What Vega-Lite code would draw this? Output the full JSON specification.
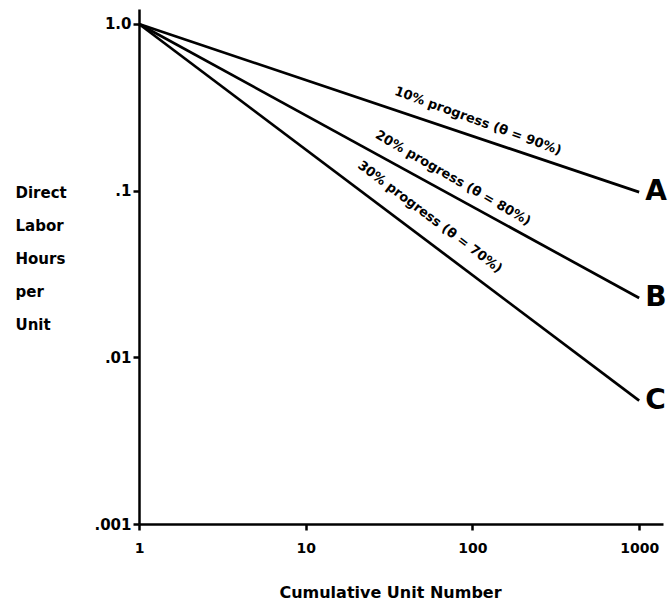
{
  "$schema": "https://vega.github.io/schema/vega-lite/v6.json",
  "width": 524,
  "height": 515,
  "autosize": "none",
  "padding": {"left": 139, "top": 9, "right": 7, "bottom": 90},
  "background": "white",
  "config": {
    "view": {"stroke": null},
    "font": "DejaVu Sans",
    "axis": {
      "domainColor": "black",
      "domainWidth": 2.5,
      "tickColor": "black",
      "tickWidth": 2.5,
      "tickSize": 6,
      "grid": false,
      "labelColor": "black",
      "labelFont": "DejaVu Sans",
      "labelFontWeight": "bold",
      "titleColor": "black",
      "titleFont": "DejaVu Sans",
      "titleFontWeight": "bold"
    }
  },
  "datasets": {
    "curves": [
      {"curve": "A", "units": 1, "hours": 1},
      {"curve": "A", "units": 1000, "hours": 0.098},
      {"curve": "B", "units": 1, "hours": 1},
      {"curve": "B", "units": 1000, "hours": 0.0227},
      {"curve": "C", "units": 1, "hours": 1},
      {"curve": "C", "units": 1000, "hours": 0.0055}
    ],
    "notes": [
      {"curve": "A", "label": "10% progress (θ = 90%)", "units": 108, "hours": 0.262},
      {"curve": "B", "label": "20% progress (θ = 80%)", "units": 76.5, "hours": 0.119},
      {"curve": "C", "label": "30% progress (θ = 70%)", "units": 55.7, "hours": 0.0695}
    ]
  },
  "encoding": {
    "x": {
      "field": "units",
      "type": "quantitative",
      "scale": {"type": "log", "domain": [1, 1390], "nice": false},
      "axis": {
        "values": [1, 10, 100, 1000],
        "labelExpr": "format(datum.value, 'd')",
        "labelFontSize": 14,
        "labelPadding": 11,
        "labelFlush": false,
        "title": "Cumulative Unit Number",
        "titleFontSize": 16,
        "titleX": 251,
        "titleY": 68,
        "titleAlign": "center",
        "titleBaseline": "middle"
      }
    },
    "y": {
      "field": "hours",
      "type": "quantitative",
      "scale": {"type": "log", "domain": [0.001, 1.23], "nice": false},
      "axis": {
        "values": [0.001, 0.01, 0.1, 1],
        "labelExpr": "datum.value >= 1 ? '1.0' : datum.value >= 0.1 ? '.1' : datum.value >= 0.01 ? '.01' : '.001'",
        "labelFontSize": 15,
        "labelPadding": 2,
        "labelFlush": false,
        "title": ["Direct", "Labor", "Hours", "per", "Unit"],
        "titleFontSize": 15,
        "titleAngle": 0,
        "titleAlign": "left",
        "titleBaseline": "top",
        "titleLineHeight": 33,
        "titleX": -124,
        "titleY": 176
      }
    }
  },
  "layer": [
    {
      "data": {"name": "curves"},
      "mark": {"type": "line", "color": "black", "strokeWidth": 2.7},
      "encoding": {"detail": {"field": "curve"}}
    },
    {
      "data": {"name": "curves"},
      "transform": [{"filter": "datum.units == 1000"}],
      "mark": {"type": "text", "align": "left", "baseline": "middle", "dx": 6, "fontSize": 28, "fontWeight": "bold", "color": "black"},
      "encoding": {"text": {"field": "curve"}}
    },
    {
      "data": {"name": "notes"},
      "transform": [{"filter": "datum.curve == 'A'"}],
      "mark": {"type": "text", "angle": 20, "align": "center", "baseline": "middle", "fontSize": 13, "fontWeight": "bold", "color": "black"},
      "encoding": {"text": {"field": "label"}}
    },
    {
      "data": {"name": "notes"},
      "transform": [{"filter": "datum.curve == 'B'"}],
      "mark": {"type": "text", "angle": 30, "align": "center", "baseline": "middle", "fontSize": 13, "fontWeight": "bold", "color": "black"},
      "encoding": {"text": {"field": "label"}}
    },
    {
      "data": {"name": "notes"},
      "transform": [{"filter": "datum.curve == 'C'"}],
      "mark": {"type": "text", "angle": 37, "align": "center", "baseline": "middle", "fontSize": 13, "fontWeight": "bold", "color": "black"},
      "encoding": {"text": {"field": "label"}}
    }
  ]
}
